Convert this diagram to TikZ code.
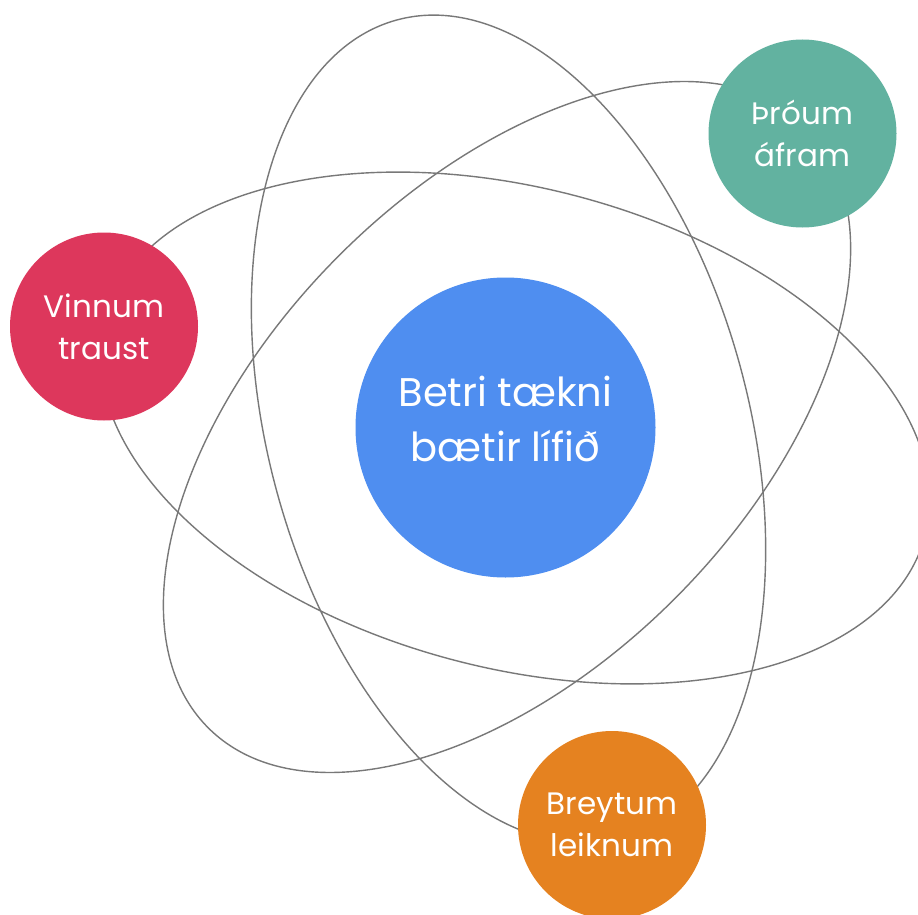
\documentclass[tikz,border=0pt]{standalone}
\usepackage{fontspec}
\setmainfont{Poppins}
\definecolor{hubblue}{RGB}{79,142,240}
\definecolor{redc}{RGB}{221,55,92}
\definecolor{tealc}{RGB}{98,178,160}
\definecolor{orangec}{RGB}{229,130,32}
\definecolor{orbitgray}{RGB}{120,120,120}
\begin{document}
\begin{tikzpicture}[x=1pt,y=-1pt,
  orbit/.style={draw=orbitgray, line width=1.4pt},
  bubble/.style={circle, inner sep=0pt, minimum size=188pt, text=white, align=center, font=\fontsize{31}{42}\selectfont},
  hub/.style={circle, inner sep=0pt, minimum size=300pt, fill=hubblue, text=white, align=center, text depth=18pt, font=\fontsize{40}{55}\selectfont}]
\fill[white] (0,0) rectangle (918,915);
\useasboundingbox (0,0) rectangle (918,915);
\clip (0,0) rectangle (918,915);
\coordinate (oa) at (515,428);
\coordinate (ob) at (508.5,429);
\coordinate (oc) at (507,427);
\draw[orbit, rotate around={-14.7:(oa)}] (oa) ellipse [x radius=424pt, y radius=240pt];
\draw[orbit, rotate around={-74.7:(ob)}] (ob) ellipse [x radius=424pt, y radius=240pt];
\draw[orbit, rotate around={-134.7:(oc)}] (oc) ellipse [x radius=424pt, y radius=240pt];
\node[hub] (hub) at (505.5,427.5) {Betri tækni\\bætir lífið};
\node[bubble, fill=redc] (trust) at (104,326.5) {Vinnum\\traust};
\node[bubble, fill=tealc] (forward) at (802.5,133.5) {Þróum\\áfram};
\node[bubble, fill=orangec] (game) at (612,825) {Breytum\\leiknum};
\end{tikzpicture}
\end{document}
